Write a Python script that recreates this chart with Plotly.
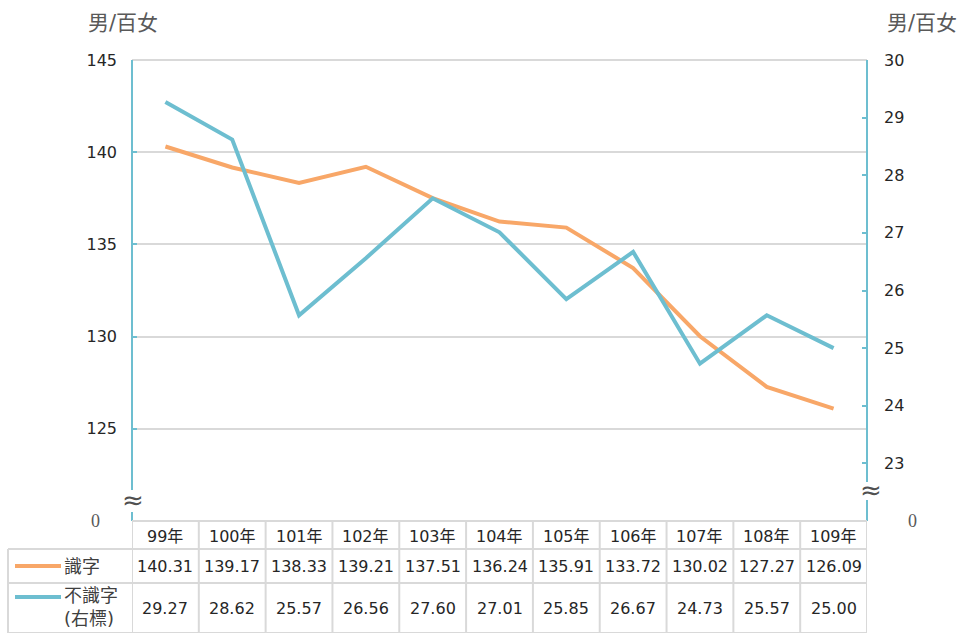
import plotly.graph_objects as go

years = ["99年", "100年", "101年", "102年", "103年", "104年", "105年", "106年", "107年", "108年", "109年"]
literate = [140.31, 139.17, 138.33, 139.21, 137.51, 136.24, 135.91, 133.72, 130.02, 127.27, 126.09]
illiterate = [29.27, 28.62, 25.57, 26.56, 27.60, 27.01, 25.85, 26.67, 24.73, 25.57, 25.00]
left_ticks = [125, 130, 135, 140, 145]
right_ticks = [23, 24, 25, 26, 27, 28, 29, 30]
series_names = ["識字", "不識字<br>(右標)"]
unit = "男/百女"

ORANGE = "#F8A768"
BLUE = "#6DBED0"
GRID = "#D9D9D9"
TXT = "#262626"
FONT = "DejaVu Sans, Noto Sans CJK TC"

W, H = 965, 633
L, R, T, B = 132, 867, 60, 521
PH = B - T
PW = R - L

def py(p):
    return (B - p) / PH

def px(p):
    return (p - L) / PW

fig = go.Figure()
fig.add_trace(go.Scatter(x=years, y=literate, mode="lines", line=dict(color=ORANGE, width=4),
                         yaxis="y", showlegend=False, hoverinfo="skip"))
fig.add_trace(go.Scatter(x=years, y=illiterate, mode="lines", line=dict(color=BLUE, width=4),
                         yaxis="y2", showlegend=False, hoverinfo="skip"))

shapes = []
ann = []
# top gridline
shapes.append(dict(type="line", xref="paper", yref="paper", x0=0, x1=1, y0=1, y1=1, line=dict(color=GRID, width=2), layer="below"))
# axis lines with breaks
shapes.append(dict(type="line", xref="paper", yref="paper", x0=0, x1=0, y0=py(512), y1=0, line=dict(color=BLUE, width=2)))
shapes.append(dict(type="line", xref="paper", yref="paper", x0=0, x1=0, y0=py(490), y1=1, line=dict(color=BLUE, width=2)))
shapes.append(dict(type="line", xref="paper", yref="paper", x0=1, x1=1, y0=py(500), y1=0, line=dict(color=BLUE, width=2)))
shapes.append(dict(type="line", xref="paper", yref="paper", x0=1, x1=1, y0=py(482), y1=1, line=dict(color=BLUE, width=2)))
ann.append(dict(text="≈", xref="paper", yref="paper", x=px(133), y=py(500), showarrow=False,
                font=dict(family=FONT, size=26, color="#505050"), xanchor="center", yanchor="middle"))
ann.append(dict(text="≈", xref="paper", yref="paper", x=px(871), y=py(490), showarrow=False,
                font=dict(family=FONT, size=26, color="#505050"), xanchor="center", yanchor="middle"))
# zero labels
ann.append(dict(text="0", xref="paper", yref="paper", x=px(95), y=py(521), showarrow=False,
                font=dict(family="Liberation Serif", size=18, color="#595959"), xanchor="center", yanchor="middle"))
ann.append(dict(text="0", xref="paper", yref="paper", x=px(912), y=py(521), showarrow=False,
                font=dict(family="Liberation Serif", size=18, color="#595959"), xanchor="center", yanchor="middle"))
# unit titles
ann.append(dict(text=unit, xref="paper", yref="paper", x=px(123), y=py(23), showarrow=False,
                font=dict(family=FONT, size=21, color="#595959"), xanchor="center", yanchor="middle"))
ann.append(dict(text=unit, xref="paper", yref="paper", x=px(922), y=py(23), showarrow=False,
                font=dict(family=FONT, size=21, color="#595959"), xanchor="center", yanchor="middle"))

# table grid
tl = dict(color=GRID, width=2)
shapes.append(dict(type="line", xref="paper", yref="paper", x0=0, x1=1, y0=py(521), y1=py(521), line=tl))
for yy in (549, 583, 633):
    shapes.append(dict(type="line", xref="paper", yref="paper", x0=px(8), x1=1, y0=py(yy), y1=py(yy), line=tl))
for k in range(len(years) + 1):
    shapes.append(dict(type="line", xref="x", yref="paper", x0=k - 0.5, x1=k - 0.5, y0=py(521), y1=py(640), line=tl))
shapes.append(dict(type="line", xref="paper", yref="paper", x0=px(8), x1=px(8), y0=py(549), y1=py(640), line=tl))
# legend keys
shapes.append(dict(type="line", xref="paper", yref="paper", x0=px(15), x1=px(61), y0=py(566), y1=py(566), line=dict(color=ORANGE, width=4)))
shapes.append(dict(type="line", xref="paper", yref="paper", x0=px(15), x1=px(61), y0=py(597), y1=py(597), line=dict(color=BLUE, width=4)))
ann.append(dict(text=series_names[0], xref="paper", yref="paper", x=px(62), y=py(566), showarrow=False,
                font=dict(family=FONT, size=18, color="#404040"), xanchor="left", yanchor="middle"))
ann.append(dict(text=series_names[1], xref="paper", yref="paper", x=px(62), y=py(607), showarrow=False, align="left",
                font=dict(family=FONT, size=18, color="#404040"), xanchor="left", yanchor="middle"))

for i, yr in enumerate(years):
    ann.append(dict(text=yr, xref="x", yref="paper", x=yr, y=py(536), showarrow=False,
                    font=dict(family=FONT, size=16, color=TXT), xanchor="center", yanchor="middle"))
    ann.append(dict(text=f"{literate[i]:.2f}", xref="x", yref="paper", x=yr, y=py(566), showarrow=False,
                    font=dict(family=FONT, size=16, color=TXT), xanchor="center", yanchor="middle"))
    ann.append(dict(text=f"{illiterate[i]:.2f}", xref="x", yref="paper", x=yr, y=py(608), showarrow=False,
                    font=dict(family=FONT, size=16, color=TXT), xanchor="center", yanchor="middle"))

fig.update_layout(
    width=W, height=H,
    margin=dict(l=L, r=W - R, t=T, b=H - B, pad=0),
    paper_bgcolor="white", plot_bgcolor="white",
    xaxis=dict(type="category", range=[-0.5, len(years) - 0.5], showticklabels=False, showgrid=False,
               zeroline=False, showline=False, ticks=""),
    yaxis=dict(range=[120, 145], tickvals=left_ticks, showgrid=True, gridcolor=GRID, gridwidth=1.5,
               zeroline=False, showline=False, ticks="inside", ticklen=5, tickcolor=BLUE, tickwidth=2,
               tickfont=dict(family=FONT, size=16, color=TXT), ticklabelstandoff=14),
    yaxis2=dict(range=[22, 30], tickvals=right_ticks, overlaying="y", side="right", showgrid=False,
                zeroline=False, showline=False, ticks="inside", ticklen=5, tickcolor=BLUE, tickwidth=2,
                tickfont=dict(family=FONT, size=16, color=TXT), ticklabelstandoff=16),
    shapes=shapes, annotations=ann,
)
fig.write_html("out.html", config={"displayModeBar": False},
               post_script="document.body.style.margin='0';")
